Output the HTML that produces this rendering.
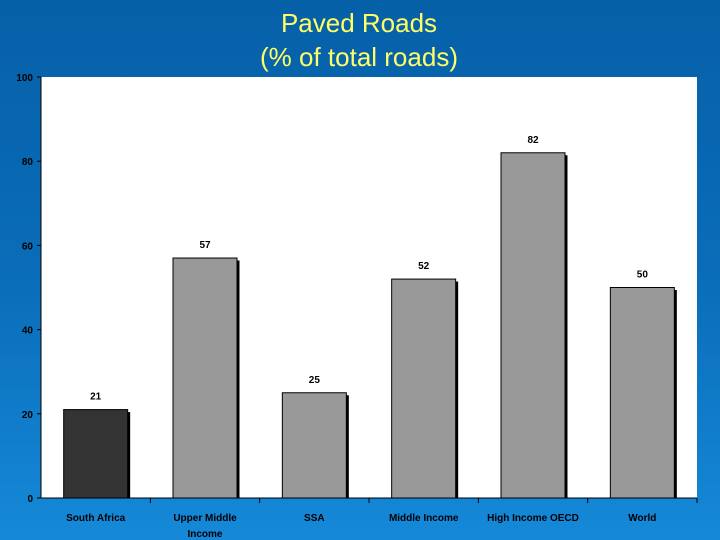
<!DOCTYPE html>
<html><head><meta charset="utf-8"><style>
html,body{margin:0;padding:0}
body{width:720px;height:540px;overflow:hidden;background:linear-gradient(to bottom,#0660a8 0%,#0a6cb8 50%,#1589d8 100%);font-family:"Liberation Sans",sans-serif}
#title{position:absolute;top:6px;width:720px;text-align:center;color:#ffff66;font-size:26px;line-height:34px;left:-1px}
</style></head><body>
<div id="title">Paved Roads<br>(% of total roads)</div>
<svg id="chart" width="720" height="540" style="position:absolute;left:0;top:0"></svg>
<script>
const categories=["South Africa","Upper Middle|Income","SSA","Middle Income","High Income OECD","World"];
const values=[21,57,25,52,82,50];
const yTicks=[0,20,40,60,80,100];
const NS="http://www.w3.org/2000/svg";
const svg=document.getElementById('chart');
const L=41,R=697,T=77,B=498;
const y=v=>B-(v/100)*(B-T);
const bw=(R-L)/categories.length;
const x=i=>L+bw*i;
function mk(t,a,p){const e=document.createElementNS(NS,t);for(const k in a)e.setAttribute(k,a[k]);(p||svg).appendChild(e);return e;}
const bg=mk('rect',{x:L,y:T,width:R-L,height:B-T,fill:'#fff'});


values.forEach((v,i)=>{
  const cx=x(i)+bw/2,w=64;
  const sh=mk('rect',{x:cx-w/2+2.5,y:y(v)+2.5,width:w,height:B-y(v)-2.5,fill:'#000'});
  
  
  const b=mk('rect',{x:cx-w/2,y:y(v),width:w,height:B-y(v),fill:i===0?'#333333':'#999999',stroke:'#000','stroke-width':1});
  
  
  const t=mk('text',{x:cx,y:y(v)-10,'text-anchor':'middle','font-size':10,'font-weight':'bold',fill:'#000','font-family':'Liberation Sans'});
  t.textContent=v;
  
  
  const lines=categories[i].split('|');
  lines.forEach((ln,j)=>{
    const c=mk('text',{x:cx,y:521+j*16,'text-anchor':'middle','font-size':10,'font-weight':'bold',fill:'#000','font-family':'Liberation Sans'});
    c.textContent=ln;
    
    
  });
  const tk=mk('line',{x1:x(i+1),x2:x(i+1),y1:B,y2:B+5,stroke:'#000'});
  
  
});
const ax=mk('line',{x1:L,x2:L,y1:T,y2:B,stroke:'#000','stroke-width':1});


const xa=mk('line',{x1:L-4,x2:R,y1:B,y2:B,stroke:'#000','stroke-width':1});


yTicks.forEach(v=>{
  const l=mk('line',{x1:L-4,x2:L,y1:y(v),y2:y(v),stroke:'#000'});
  
  
  const t=mk('text',{x:L-8,y:y(v)+4,'text-anchor':'end','font-size':10,'font-weight':'bold',fill:'#000','font-family':'Liberation Sans'});
  t.textContent=v;
  
  
});
</script>
</body></html>
